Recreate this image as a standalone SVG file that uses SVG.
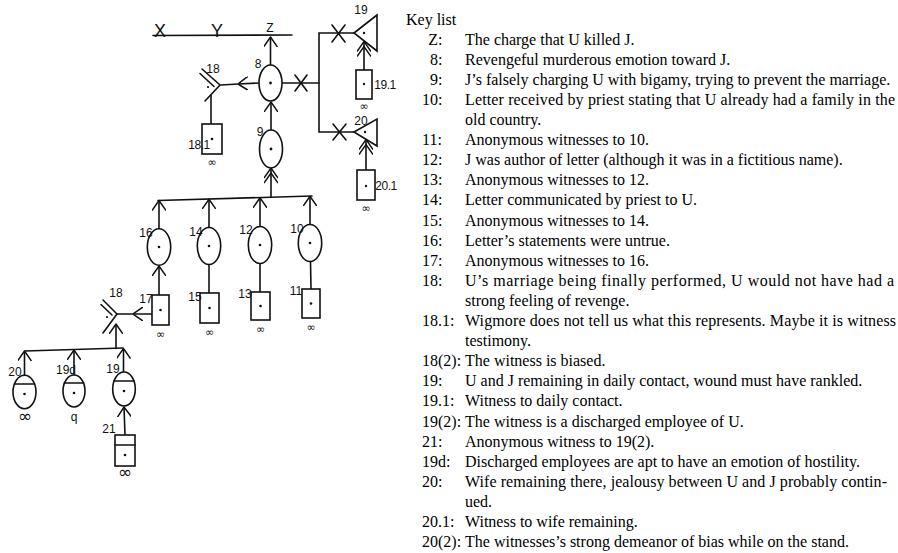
<svg xmlns="http://www.w3.org/2000/svg" width="898" height="553" viewBox="0 0 898 553">
<style>
.ln{stroke:#111;stroke-width:1.6;fill:none;stroke-linecap:round}
.nd{stroke:#111;stroke-width:1.6;fill:#fff}
.dot{fill:#111}
.lb{font-family:"Liberation Sans",Arial,sans-serif;font-size:12px;fill:#111;text-anchor:middle}
.big{font-family:"Liberation Sans",Arial,sans-serif;font-size:18px;fill:#111;text-anchor:middle}
.inf{font-family:"DejaVu Sans",sans-serif;font-size:11px;fill:#111;text-anchor:middle}
.infb{font-family:"DejaVu Sans",sans-serif;font-size:17px;fill:#111;text-anchor:middle}
.k{font-family:"Liberation Serif","Times New Roman",serif;font-size:16px;fill:#000}
.ke{text-anchor:end}
</style>
<defs>
<marker id="arr" viewBox="0 0 10 14" refX="10" refY="7" markerWidth="10" markerHeight="14" markerUnits="userSpaceOnUse" orient="auto">
<path d="M0,0 L10,7 L0,14" fill="none" stroke="#111" stroke-width="1.5"/>
</marker>
<marker id="arr2" viewBox="-6 0 16 14" refX="10" refY="7" markerWidth="16" markerHeight="14" markerUnits="userSpaceOnUse" orient="auto">
<path d="M0,0 L10,7 L0,14 M-5,0 L5,7 L-5,14" fill="none" stroke="#111" stroke-width="1.4"/>
</marker>
</defs>
<rect width="898" height="553" fill="#fff"/>

<g id="connectors">
<path class="ln" d="M153,35.5 L292,35"/>
<line class="ln" x1="270.5" y1="65" x2="270.5" y2="37" marker-end="url(#arr)"/>
<line class="ln" x1="271" y1="130" x2="271" y2="102" marker-end="url(#arr)"/>
<line class="ln" x1="271" y1="197" x2="271" y2="168" marker-end="url(#arr2)"/>
<path class="ln" d="M259,83 L238,84 L221,85" marker-mid="url(#arr)"/>
<line class="ln" x1="211" y1="124" x2="211" y2="95"/>
<path class="ln" d="M158,200.5 L312,196"/>
<line class="ln" x1="159" y1="228.7" x2="159" y2="200.5" marker-end="url(#arr)"/>
<line class="ln" x1="209" y1="227.5" x2="209" y2="199.2" marker-end="url(#arr)"/>
<line class="ln" x1="260" y1="226.5" x2="260" y2="197.8" marker-end="url(#arr)"/>
<line class="ln" x1="310" y1="224.5" x2="310" y2="196.3" marker-end="url(#arr)"/>
<line class="ln" x1="159" y1="295" x2="159" y2="266" marker-end="url(#arr)"/>
<line class="ln" x1="209" y1="293" x2="209" y2="264.5" stroke-width="1.2"/>
<line class="ln" x1="260" y1="292" x2="260" y2="263.5" stroke-width="1.2"/>
<line class="ln" x1="311" y1="289" x2="310.5" y2="261.5"/>
<path class="ln" d="M152,314 L133,314 L117,314" marker-mid="url(#arr)"/>
<path class="ln" d="M25,351 L123,348"/>
<line class="ln" x1="116" y1="348.5" x2="116" y2="324" marker-end="url(#arr)"/>
<line class="ln" x1="24.5" y1="375" x2="24.5" y2="351" marker-end="url(#arr)"/>
<line class="ln" x1="74" y1="375" x2="74" y2="350" marker-end="url(#arr)"/>
<line class="ln" x1="123.5" y1="372" x2="123.5" y2="348.5" marker-end="url(#arr)"/>
<line class="ln" x1="125" y1="435" x2="124" y2="407" marker-end="url(#arr)"/>
<line class="ln" x1="282" y1="83" x2="319" y2="83"/>
<path class="ln" d="M295,75 L307,91 M295,91 L307,75"/>
<path class="ln" d="M354,33 L319,33 L319,132 L354,132"/>
<path class="ln" d="M332,25 L345,42 M332,42 L345,25"/>
<path class="ln" d="M333,124 L346,140 M333,140 L346,124"/>
<line class="ln" x1="364" y1="70" x2="364" y2="41.5" marker-end="url(#arr2)"/>
<line class="ln" x1="366" y1="170" x2="366" y2="139.5" marker-end="url(#arr2)"/>
</g>

<g id="nX"><text class="big" x="160" y="37">X</text></g>
<g id="nY"><text class="big" x="217" y="37">Y</text></g>
<g id="nZ"><text class="lb" x="270" y="32" font-size="13">Z</text></g>

<g id="n8"><ellipse class="nd" cx="270.5" cy="83" rx="11.5" ry="18"/><circle class="dot" cx="270.5" cy="83" r="1.4"/><text class="lb" x="258" y="68">8</text></g>
<g id="n9"><ellipse class="nd" cx="271" cy="149" rx="11.5" ry="19"/><circle class="dot" cx="271" cy="149" r="1.4"/><text class="lb" x="260" y="136">9</text></g>

<g id="n18a"><path class="ln" d="M202,69 L220,85 L205,101 M200,73.5 L214,86.5"/><circle class="dot" cx="208" cy="87" r="1.1"/><text class="lb" x="213" y="73">18</text></g>
<g id="n18_1"><rect class="nd" x="202" y="124" width="20" height="30"/><circle class="dot" cx="212" cy="139" r="1.3"/><text class="lb" x="199" y="149" font-size="11" letter-spacing="-0.5" text-anchor="end">18.1</text><text class="inf" x="212" y="166">∞</text></g>

<g id="n16"><ellipse class="nd" cx="159" cy="247" rx="11.7" ry="18.3"/><circle class="dot" cx="159" cy="247" r="1.3"/><text class="lb" x="146" y="237">16</text></g>
<g id="n14"><ellipse class="nd" cx="209" cy="246" rx="11.7" ry="18.5"/><circle class="dot" cx="209" cy="246" r="1.3"/><text class="lb" x="196" y="236">14</text></g>
<g id="n12"><ellipse class="nd" cx="260" cy="245" rx="11.7" ry="18.5"/><circle class="dot" cx="260" cy="245" r="1.3"/><text class="lb" x="246" y="234">12</text></g>
<g id="n10"><ellipse class="nd" cx="310" cy="243" rx="11.7" ry="18.5"/><circle class="dot" cx="310" cy="243" r="1.3"/><text class="lb" x="297" y="233">10</text></g>

<g id="n17"><rect class="nd" x="152" y="295" width="17" height="30"/><circle class="dot" cx="160.5" cy="310" r="1.3"/><text class="lb" x="146" y="303">17</text><text class="inf" x="160.5" y="338">∞</text></g>
<g id="n15"><rect class="nd" x="200" y="293" width="19" height="30"/><circle class="dot" cx="209.5" cy="308" r="1.3"/><text class="lb" x="195" y="301">15</text><text class="inf" x="209.5" y="336">∞</text></g>
<g id="n13"><rect class="nd" x="251" y="292" width="19" height="28"/><circle class="dot" cx="260.5" cy="306" r="1.3"/><text class="lb" x="245" y="298">13</text><text class="inf" x="260.5" y="333">∞</text></g>
<g id="n11"><rect class="nd" x="302" y="289" width="18" height="29"/><circle class="dot" cx="311" cy="303.5" r="1.3"/><text class="lb" x="296" y="295">11</text><text class="inf" x="311" y="331">∞</text></g>

<g id="n18b"><path class="ln" d="M103,300 L117,314 L103,333 M101,304.5 L112,315"/><circle class="dot" cx="107" cy="317" r="1.1"/><text class="lb" x="116" y="297">18</text></g>

<g id="n20"><ellipse class="nd" cx="24.5" cy="392" rx="11.5" ry="16.7"/><line class="ln" x1="14.4" y1="384" x2="34.6" y2="384"/><circle class="dot" cx="24.5" cy="394" r="1.3"/><text class="lb" x="15" y="376">20</text><text class="infb" x="25" y="422">∞</text></g>
<g id="n19d"><ellipse class="nd" cx="74" cy="391" rx="11" ry="16"/><line class="ln" x1="64.2" y1="383" x2="83.8" y2="383"/><circle class="dot" cx="74" cy="393" r="1.3"/><text class="lb" x="66" y="374">19d</text><text class="lb" x="74" y="421" font-size="13">q</text></g>
<g id="n19"><ellipse class="nd" cx="124" cy="389" rx="11.3" ry="17"/><line class="ln" x1="114" y1="381" x2="134" y2="381"/><circle class="dot" cx="124" cy="391" r="1.3"/><text class="lb" x="113" y="373">19</text></g>
<g id="n21"><rect class="nd" x="115" y="435" width="20" height="31"/><line class="ln" x1="115" y1="445" x2="135" y2="445"/><circle class="dot" cx="125" cy="455" r="1.3"/><text class="lb" x="109" y="433">21</text><text class="infb" x="125" y="478">∞</text></g>

<g id="t19"><polygon class="nd" points="354,33 377,15 377,51"/><circle class="dot" cx="364" cy="33" r="1.2"/><text class="lb" x="361" y="14">19</text></g>
<g id="n19_1"><rect class="nd" x="356" y="70" width="16" height="29"/><circle class="dot" cx="364" cy="84" r="1.2"/><text class="lb" x="385" y="89" font-size="11" letter-spacing="-0.5">19.1</text><text class="inf" x="364" y="110">∞</text></g>
<g id="t20"><polygon class="nd" points="354,132 377,119 377,146"/><circle class="dot" cx="365" cy="132" r="1.2"/><text class="lb" x="361" y="125">20</text></g>
<g id="n20_1"><rect class="nd" x="357" y="170" width="18" height="30"/><circle class="dot" cx="366" cy="186" r="1.2"/><text class="lb" x="386" y="190" font-size="11" letter-spacing="-0.5">20.1</text><text class="inf" x="366" y="212">∞</text></g>

<g id="keylist">
<text class="k" x="406" y="24.5">Key list</text>
<text class="k ke" x="442.5" y="44.6">Z:</text><text class="k" x="465" y="44.6">The charge that U killed J.</text>
<text class="k ke" x="442.5" y="64.7">8:</text><text class="k" x="465" y="64.7">Revengeful murderous emotion toward J.</text>
<text class="k ke" x="442.5" y="84.8">9:</text><text class="k" x="465" y="84.8">J’s falsely charging U with bigamy, trying to prevent the marriage.</text>
<text class="k" x="422" y="104.9">10:</text><text class="k" x="465" y="104.9" textLength="430" lengthAdjust="spacing">Letter received by priest stating that U already had a family in the</text>
<text class="k" x="465" y="125">old country.</text>
<text class="k" x="422" y="145.1">11:</text><text class="k" x="465" y="145.1">Anonymous witnesses to 10.</text>
<text class="k" x="422" y="165.2">12:</text><text class="k" x="465" y="165.2">J was author of letter (although it was in a fictitious name).</text>
<text class="k" x="422" y="185.3">13:</text><text class="k" x="465" y="185.3">Anonymous witnesses to 12.</text>
<text class="k" x="422" y="205.4">14:</text><text class="k" x="465" y="205.4">Letter communicated by priest to U.</text>
<text class="k" x="422" y="225.5">15:</text><text class="k" x="465" y="225.5">Anonymous witnesses to 14.</text>
<text class="k" x="422" y="245.6">16:</text><text class="k" x="465" y="245.6">Letter’s statements were untrue.</text>
<text class="k" x="422" y="265.7">17:</text><text class="k" x="465" y="265.7">Anonymous witnesses to 16.</text>
<text class="k" x="422" y="285.8">18:</text><text class="k" x="465" y="285.8" textLength="429" lengthAdjust="spacing">U’s marriage being finally performed, U would not have had a</text>
<text class="k" x="465" y="305.9">strong feeling of revenge.</text>
<text class="k" x="422" y="326">18.1:</text><text class="k" x="465" y="326" textLength="431" lengthAdjust="spacing">Wigmore does not tell us what this represents. Maybe it is witness</text>
<text class="k" x="465" y="346.1">testimony.</text>
<text class="k" x="422" y="366.2">18(2):</text><text class="k" x="465" y="366.2">The witness is biased.</text>
<text class="k" x="422" y="386.3">19:</text><text class="k" x="465" y="386.3">U and J remaining in daily contact, wound must have rankled.</text>
<text class="k" x="422" y="406.4">19.1:</text><text class="k" x="465" y="406.4">Witness to daily contact.</text>
<text class="k" x="422" y="426.5">19(2):</text><text class="k" x="465" y="426.5">The witness is a discharged employee of U.</text>
<text class="k" x="422" y="446.6">21:</text><text class="k" x="465" y="446.6">Anonymous witness to 19(2).</text>
<text class="k" x="422" y="466.7">19d:</text><text class="k" x="465" y="466.7">Discharged employees are apt to have an emotion of hostility.</text>
<text class="k" x="422" y="486.8">20:</text><text class="k" x="465" y="486.8" textLength="422" lengthAdjust="spacing">Wife remaining there, jealousy between U and J probably contin-</text>
<text class="k" x="465" y="506.9">ued.</text>
<text class="k" x="422" y="527">20.1:</text><text class="k" x="465" y="527">Witness to wife remaining.</text>
<text class="k" x="422" y="547.1">20(2):</text><text class="k" x="465" y="547.1">The witnesses’s strong demeanor of bias while on the stand.</text>
</g>
</svg>
